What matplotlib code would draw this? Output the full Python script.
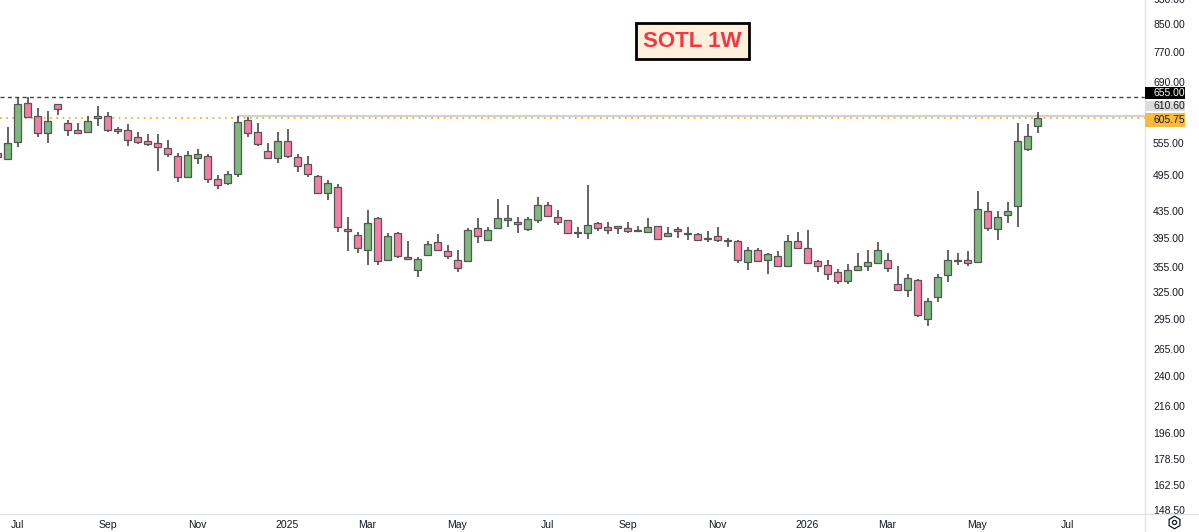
import numpy as np
import pandas as pd
import matplotlib
matplotlib.use('Agg')
import matplotlib.pyplot as plt
import matplotlib.dates as mdates
from matplotlib.patches import Rectangle
from matplotlib.lines import Line2D

plt.rcParams['font.family'] = ['Liberation Sans', 'DejaVu Sans']

# ------------------------------------
# Datos: velas semanales SOTL (desde 2024-06-17)
# ------------------------------------
fechas = pd.date_range('2024-06-17', periods=105, freq='7D')

opens = [536, 524, 557, 640, 611, 574, 637, 596, 581, 576, 608, 611, 582, 581, 566, 558,
         554, 544, 529, 491, 525, 529, 487, 480, 497, 602, 577, 539, 526, 558, 528, 515,
         492, 463, 473, 407, 398, 378, 424, 365, 401, 367, 351, 371, 389, 376, 364, 363,
         409, 392, 409, 423, 417, 407, 421, 444, 425, 421, 402, 402, 416, 410, 410, 409,
         405, 403, 411, 397, 406, 401, 400, 394, 397, 392, 390, 362, 378, 365, 370, 357,
         390, 381, 363, 358, 349, 338, 352, 356, 361, 365, 334, 327, 339, 295, 319, 345,
         363, 365, 362, 435, 407, 429, 443, 543, 589]
highs = [540, 588, 654, 654, 628, 623, 637, 602, 596, 611, 633, 619, 588, 594, 577, 572,
         572, 560, 536, 539, 542, 533, 494, 501, 610.6, 608, 595, 554, 577, 584, 533, 529,
         494, 485, 478, 425, 403, 436, 425, 402, 403, 390, 368, 390, 400, 384, 378, 409,
         423, 410, 453, 444, 425, 425, 457, 448, 436, 421, 410, 477, 417, 417, 411, 418,
         411, 423, 412, 410, 410, 410, 401, 404, 410, 394, 391, 382, 380, 373, 376, 398,
         403, 406, 364, 364, 353, 359, 373, 378, 389, 374, 357, 347, 340, 318, 346, 378,
         374, 376, 467, 448, 435, 448, 596, 594, 619]
lows = [524, 522, 547, 607, 567, 554, 614, 569, 574, 574, 589, 577, 572, 549, 552, 549,
        501, 527, 482, 490, 515, 480, 470, 477, 491, 566, 549, 523, 517, 525, 499, 490,
        462, 452, 403, 376, 374, 358, 358, 363, 367, 365, 343, 370, 376, 366, 349, 362,
        387, 391, 408, 410, 401, 404, 416, 425, 413, 400, 395, 393, 404, 400, 400, 401,
        404, 402, 391, 396, 394, 391, 391, 389, 389, 382, 360, 351, 363, 347, 355, 357,
        380, 360, 349, 339, 334, 334, 352, 350, 360, 349, 327, 319, 297, 287, 313, 337,
        358, 357, 362, 404, 392, 416, 410, 539, 574]
closes = [528, 555, 638, 609, 574, 600, 626, 581, 575, 600, 607, 581, 580, 560, 556, 552,
          547, 533, 491, 531, 533, 487, 477, 497, 597, 574, 552, 526, 558, 529, 511, 496,
          463, 481, 410, 405, 380, 416, 363, 397, 369, 366, 366, 386, 378, 369, 354, 406,
          397, 406, 423, 420, 414, 422, 444, 426, 417, 402, 401, 413, 409, 406, 409, 405,
          404, 410, 393, 401, 405, 400, 392, 393, 391, 390, 364, 378, 363, 372, 357, 390,
          381, 361, 356, 347, 338, 351, 356, 362, 378, 354, 327, 342, 299, 314, 343, 364,
          364, 361, 437, 409, 425, 435, 558, 568, 605.75]

nivel_max = 655.00
nivel_gris = 610.60
nivel_cierre = 605.75
inicio_gris = '2024-12-02'

y_ticks = [148.5, 162.5, 178.5, 196, 216, 240, 265, 295, 325, 355, 395, 435, 495, 555,
           690, 770, 850, 930]
x_tick_fechas = ['2024-07-01', '2024-09-02', '2024-11-04', '2025-01-06', '2025-03-03',
                 '2025-05-05', '2025-07-07', '2025-09-01', '2025-11-03', '2026-01-05',
                 '2026-03-02', '2026-05-04', '2026-07-06']
x_tick_labels = ['Jul', 'Sep', 'Nov', '2025', 'Mar', 'May', 'Jul', 'Sep', 'Nov', '2026',
                 'Mar', 'May', 'Jul']

verde = '#7DB87D'
rosa = '#F47FA5'
borde = '#555555'
texto = '#131722'

W, H = 1199, 532


def fx(px):
    return px / W


def fy(py):
    return 1 - py / H


# -------------------------------------
# Graficar
# -------------------------------------
fig = plt.figure(figsize=(W / 100, H / 100), dpi=100)
ax = fig.add_axes([0, fy(514), fx(1145), (514 + 1.5) / H])
ax.set_yscale('log')
ax.set_ylim(146.4, 931.7)
x0 = mdates.date2num(pd.Timestamp('2024-07-01'))
ax.set_xlim(x0 - 12.25, x0 + 789.25)

x = mdates.date2num(fechas.to_pydatetime())
o = np.array(opens, dtype=float)
h = np.array(highs, dtype=float)
l = np.array(lows, dtype=float)
c = np.array(closes, dtype=float)

ax.vlines(x, l, h, colors='#3a3a3a', linewidth=1.1, zorder=2)
bot = np.minimum(o, c)
top = np.maximum(o, c)
top = np.where(top / bot < 1.005, bot * 1.005, top)
colores = [verde if ci >= oi else rosa for oi, ci in zip(o, c)]
ax.bar(x, top - bot, bottom=bot, width=5, color=colores, edgecolor=borde,
       linewidth=0.9, zorder=3)

# lineas horizontales
ax.axhline(nivel_max, color='#444444', linewidth=1.0, linestyle=(0, (2.9, 2.4)), zorder=1)
ax.hlines(nivel_gris, mdates.date2num(pd.Timestamp(inicio_gris)), ax.get_xlim()[1],
          color='#d2d2d2', linewidth=1.6, zorder=1)
ax.axhline(nivel_cierre, color='#F7A600', linewidth=1.2, linestyle=(0, (1, 2.75)), zorder=1)

# ejes
for s in ax.spines.values():
    s.set_visible(False)
ax.yaxis.tick_right()
ax.set_yticks(y_ticks)
ax.yaxis.set_major_formatter(matplotlib.ticker.FormatStrFormatter('%.2f'))
ax.yaxis.set_minor_locator(matplotlib.ticker.NullLocator())
ax.set_xticks(mdates.date2num(pd.to_datetime(x_tick_fechas).to_pydatetime()))
ax.set_xticklabels(x_tick_labels)
ax.tick_params(axis='y', length=0, pad=5.8, labelsize=7.5, labelcolor=texto)
ax.tick_params(axis='x', length=0, pad=4, labelsize=7.5, labelcolor=texto)

# separadores del panel
fig.add_artist(Line2D([fx(1145), fx(1145)], [0, 1], color='#E0E3EB', linewidth=1,
                      transform=fig.transFigure))
fig.add_artist(Line2D([0, 1], [fy(514), fy(514)], color='#E0E3EB', linewidth=1,
                      transform=fig.transFigure))

# etiquetas de precio
etiquetas = [
    (nivel_max, 87.3, 99.3, 'black', 'white'),
    (nivel_gris, 100.7, 110.7, '#DCDCDC', texto),
    (nivel_cierre, 112.7, 126.7, '#F9BC3A', texto),
]
for valor, y1, y2, fc, tc in etiquetas:
    fig.add_artist(Rectangle((fx(1145), fy(y2)), fx(1185) - fx(1145), (y2 - y1) / H,
                             facecolor=fc, edgecolor='none', transform=fig.transFigure,
                             zorder=5))
    fig.text(fx(1153), fy((y1 + y2) / 2), f'{valor:.2f}', color=tc, fontsize=7.5,
             ha='left', va='center', zorder=6)

# icono de ajustes
fig.add_artist(Line2D([fx(1174)], [fy(522)], marker='h', markersize=9, markerfacecolor='none',
                      markeredgecolor=texto, markeredgewidth=0.9, transform=fig.transFigure))
fig.add_artist(Line2D([fx(1174)], [fy(522)], marker='o', markersize=3, markerfacecolor='none',
                      markeredgecolor=texto, markeredgewidth=0.9, transform=fig.transFigure))

# titulo
fig.add_artist(Rectangle((fx(636), fy(59)), fx(749) - fx(636), 36 / H, facecolor='#FFF0DC',
                         edgecolor='black', linewidth=2, transform=fig.transFigure, zorder=5))
fig.text(fx(692.5), fy(41.5), 'SOTL 1W', color='#F23645', fontsize=16, fontweight='bold',
         ha='center', va='center', zorder=6)

fig.savefig('out.png', dpi=100, facecolor='white')
